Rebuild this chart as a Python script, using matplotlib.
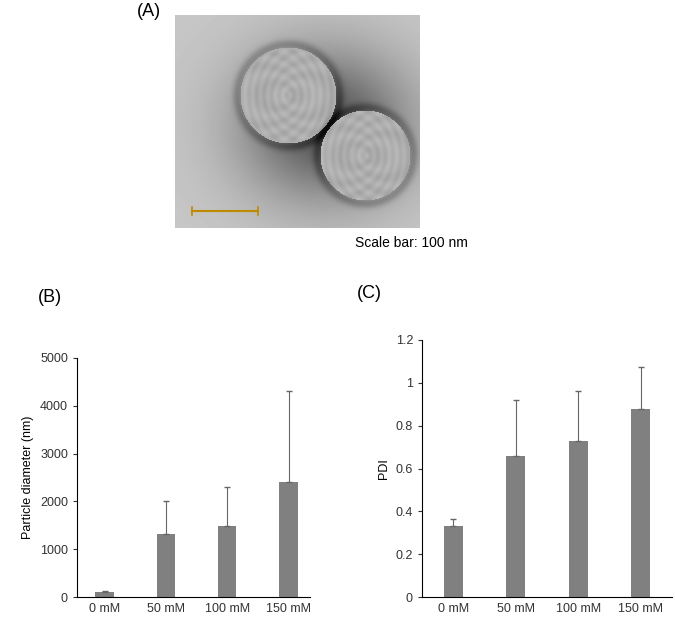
import numpy as np
import matplotlib.pyplot as plt

plt.rcParams['font.family'] = ['Liberation Sans', 'DejaVu Sans']

labels = ['0 mM', '50 mM', '100 mM', '150 mM']
diameter = [110, 1320, 1490, 2410]
diameter_err = [20, 680, 810, 1910]
pdi = [0.33, 0.66, 0.73, 0.88]
pdi_err = [0.035, 0.26, 0.23, 0.195]

fig = plt.figure(figsize=(6.75, 6.19), dpi=100)

# panel A: a schematic stand-in for the micrograph
axA = fig.add_axes([175/675, 1-228/619, 245/675, 213/619])
yy, xx = np.mgrid[0:213, 0:245]
img = 0.78 - 0.45*np.exp(-(((xx-150)/85.0)**2 + ((yy-110)/75.0)**2))
for cx, cy, r in [(113, 80, 48), (190, 140, 45)]:
    d = np.hypot(xx-cx, yy-cy)
    halo = np.exp(-((d-r-3)/5.0)**2)
    img = img - 0.15*halo
    img = np.where(d < r, 0.68 + 0.04*np.cos(d/2.0)*np.sin(xx/3.0), img)
axA.imshow(img, cmap='gray', vmin=0, vmax=1, aspect='auto')
axA.plot([16, 82], [195, 195], color='#c08a00', lw=1.5)
axA.plot([16, 16], [191, 199], color='#c08a00', lw=1.2)
axA.plot([82, 82], [191, 199], color='#c08a00', lw=1.2)
axA.axis('off')
fig.text(137/675, 1-12/619, '(A)', fontsize=13, va='center')
fig.text(355/675, 1-243/619, 'Scale bar: 100 nm', fontsize=10, va='center')
fig.text(38/675, 1-298/619, '(B)', fontsize=13, va='center')
fig.text(357/675, 1-293/619, '(C)', fontsize=13, va='center')

x = np.arange(len(labels))


def style(ax):
    for s in ['top', 'right']:
        ax.spines[s].set_visible(False)
    ax.tick_params(labelsize=9, colors='#333333', length=3)
    ax.tick_params(axis='x', length=0, pad=4)
    ax.set_xticks(x)
    ax.set_xticklabels(labels)


axB = fig.add_axes([77/675, 22/619, 233/675, 239/619])
axB.bar(x, diameter, width=0.3, color='#808080',
        yerr=[[0]*4, diameter_err], ecolor='#666666',
        error_kw=dict(lw=0.8, capsize=2))
axB.set_ylim(0, 5000)
axB.set_xlim(-0.45, 3.35)
axB.set_yticks(range(0, 5001, 1000))
axB.set_ylabel('Particle diameter (nm)', fontsize=9)
style(axB)

axC = fig.add_axes([422/675, 22/619, 250/675, 257/619])
axC.bar(x, pdi, width=0.3, color='#808080',
        yerr=[[0]*4, pdi_err], ecolor='#666666',
        error_kw=dict(lw=0.8, capsize=2))
axC.set_ylim(0, 1.2)
axC.set_xlim(-0.5, 3.5)
axC.set_yticks([0, 0.2, 0.4, 0.6, 0.8, 1, 1.2])
axC.set_yticklabels(['0', '0.2', '0.4', '0.6', '0.8', '1', '1.2'])
axC.set_ylabel('PDI', fontsize=9)
style(axC)

fig.savefig('out.png', dpi=100)
